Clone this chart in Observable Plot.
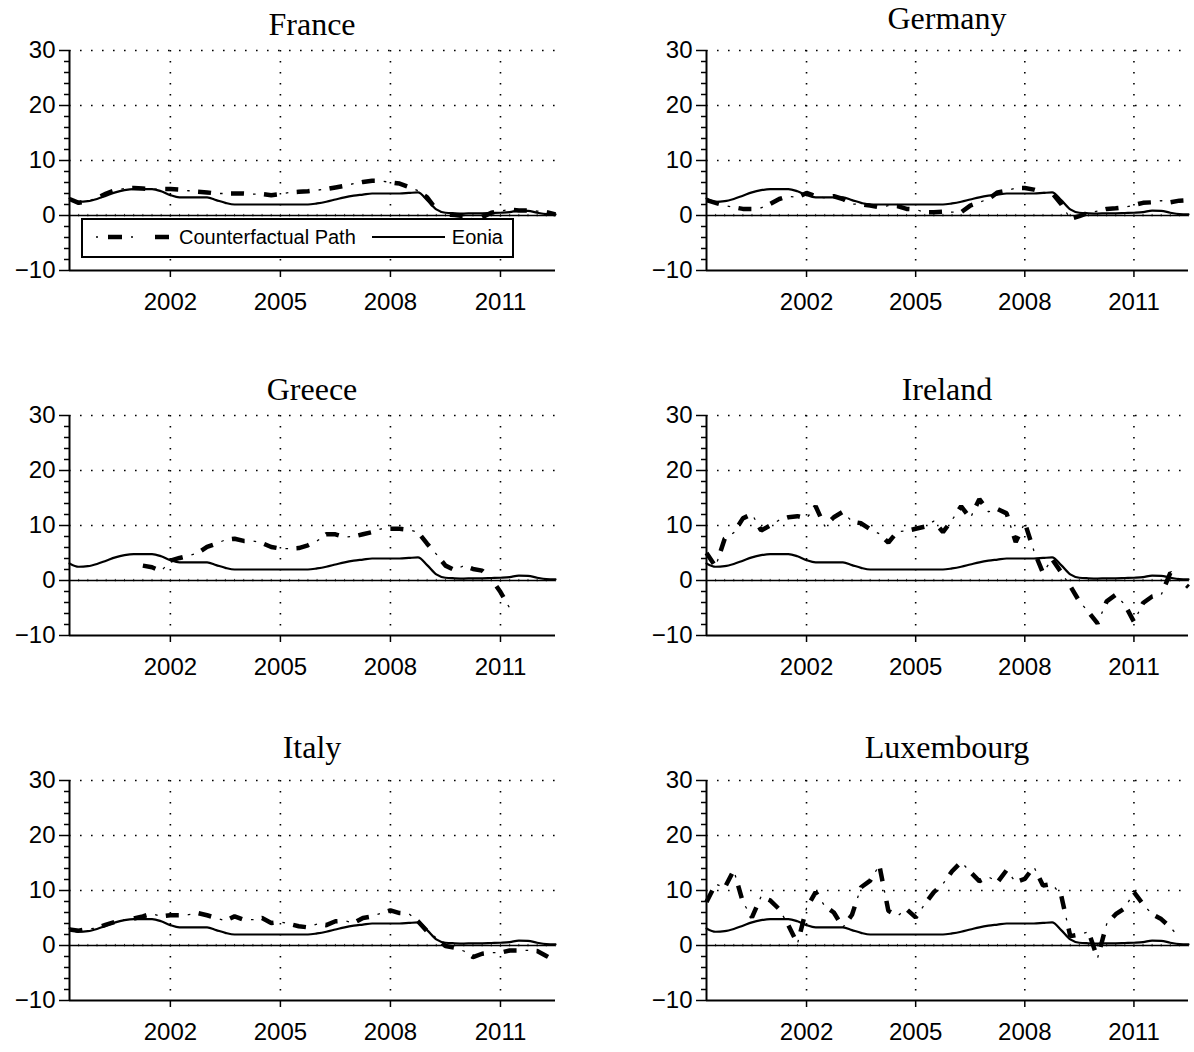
<!DOCTYPE html>
<html><head><meta charset="utf-8">
<script src="https://cdn.jsdelivr.net/npm/d3@7"></script>
<script src="https://cdn.jsdelivr.net/npm/@observablehq/plot@0.6"></script>
<style>
body{margin:0;background:#fff;}
#root{position:relative;width:1194px;height:1052px;background:#fff;overflow:hidden;}
.panel{position:absolute;}
#overlay{position:absolute;left:0;top:0;pointer-events:none;}
</style></head><body><div id="root"></div>
<script>
// quarterly observations, 1999Q2 .. 2012Q3
const startYear = 1999.25;
const nQuarters = 54;
const quarters = Array.from({length: nQuarters}, (_, i) => startYear + i * 0.25);

const countries = ["France", "Germany", "Greece", "Ireland", "Italy", "Luxembourg"];

const eonia = [3.1,2.5,2.6,3.0,3.6,4.2,4.6,4.8,4.8,4.8,4.4,3.7,3.3,3.3,3.3,3.3,2.8,2.3,2.0,2.0,2.0,2.0,2.0,2.0,2.0,2.0,2.0,2.2,2.5,2.9,3.3,3.6,3.8,4.0,4.0,4.0,4.0,4.1,4.2,2.8,1.1,0.5,0.4,0.35,0.4,0.4,0.45,0.5,0.6,0.9,0.85,0.5,0.25,0.2];

const franceCF = [3.0,2.3,2.6,3.2,4.0,4.6,4.9,5.0,4.9,4.8,4.8,4.8,4.7,4.5,4.3,4.2,4.0,4.0,4.0,4.0,3.9,3.9,3.7,3.9,4.2,4.3,4.4,4.6,4.8,5.1,5.4,5.8,6.1,6.3,6.3,6.0,5.8,5.2,4.5,3.3,1.1,0.2,0.1,-0.1,-0.6,-0.3,0.5,0.8,1.1,0.9,0.9,0.8,0.6,0.2];
const germanyCF = [2.8,2.3,1.8,1.5,1.2,1.2,1.4,2.1,3.0,3.5,3.3,4.1,3.5,3.2,3.5,3.0,2.1,2.0,1.8,1.5,1.8,1.7,1.2,1.1,0.6,0.6,0.7,0.6,0.6,1.8,2.4,3.0,4.2,4.5,5.0,5.0,4.7,4.2,4.1,2.1,-0.6,-0.1,0.5,0.8,1.2,1.3,1.5,1.9,2.3,2.4,2.7,2.4,2.7,2.8];
const greeceCF = [null,null,null,null,null,null,null,null,2.7,2.4,1.7,3.6,4.1,4.5,5.0,6.1,6.7,7.4,7.6,7.2,7.2,6.8,6.1,5.8,5.8,5.9,6.4,7.2,8.4,8.4,7.9,8.0,8.4,8.8,9.4,9.4,9.4,9.2,8.8,6.7,4.8,2.7,1.9,2.7,2.1,1.8,0.3,-2.1,-5.0,null,null,null,null,null];
const irelandCF = [5.0,2.5,7.6,8.7,11.3,12.1,9.1,10.0,11.0,11.5,11.7,11.3,13.5,9.9,11.5,12.5,10.7,10.4,9.3,8.5,6.9,8.9,9.0,9.4,9.8,10.8,8.8,11.0,13.5,11.3,14.8,12.5,13.0,12.2,7.0,10.5,5.4,1.4,3.9,1.5,-1.0,-3.8,-5.7,-7.8,-3.8,-2.6,-4.4,-7.5,-4.1,-2.9,-2.6,1.4,0.2,-1.2];
const italyCF = [2.9,2.7,3.0,3.2,3.8,4.3,4.7,4.9,5.3,5.8,5.3,5.5,5.5,5.6,5.9,5.5,5.0,4.5,5.3,4.7,4.7,5.0,4.1,4.3,3.9,3.5,3.3,3.9,3.7,4.4,4.5,4.1,5.0,5.3,5.9,6.4,5.9,5.8,4.4,2.6,1.4,-0.1,-0.4,-1.0,-2.1,-1.5,-1.3,-1.3,-0.9,-0.9,-0.9,-1.0,-1.9,-2.8];
const luxembourgCF = [7.9,11.2,10.5,13.7,7.9,5.1,8.9,8.2,6.6,3.7,0.3,6.8,9.7,7.2,6.0,3.3,5.6,10.6,11.8,14.6,6.3,5.4,6.6,5.1,7.5,9.7,11.2,13.5,15.2,13.4,11.7,12.5,11.5,13.7,11.5,12.1,14.3,10.9,11.2,9.1,1.7,2.0,2.5,-2.3,3.9,5.7,6.8,9.7,7.5,5.7,4.8,3.3,1.5,null];

const counterfactual = [franceCF, germanyCF, greeceCF, irelandCF, italyCF, luxembourgCF];

const yTicks = [-10, 0, 10, 20, 30];
const yMinorTicks = [-8,-6,-4,-2,2,4,6,8,12,14,16,18,22,24,26,28];
const yGrid = [10, 20, 30];
const xTicks = [2002, 2005, 2008, 2011];
const xDomain = [1999.25, 2012.5];
const yDomain = [-10, 30];

const legendLabels = ["Counterfactual Path", "Eonia"];

// layout
const colLeft = [0, 637];
const colWidth = [560, 557];
const colMarginRight = [5, 6];
const rowTop = [40, 405, 770];
const titleBaseline = [[35, 29], [400, 400], [758, 758]];

const root = document.getElementById("root");
const eoniaData = quarters.map((t, i) => ({t, v: eonia[i]}));

const fmtY = d => d < 0 ? "\u2212" + Math.abs(d) : String(d);

countries.forEach((name, k) => {
  const row = Math.floor(k / 2), col = k % 2;
  const cf = counterfactual[k];
  const cfData = quarters.map((t, i) => ({t, v: cf[i] == null ? NaN : cf[i]}));
  const svg = Plot.plot({
    width: colWidth[col],
    height: 282,
    marginLeft: 69,
    marginRight: colMarginRight[col],
    marginTop: 10,
    marginBottom: 52,
    x: {domain: xDomain, label: null},
    y: {domain: yDomain, label: null},
    style: {fontFamily: "'Liberation Sans', Arial, sans-serif", fontSize: "24px", color: "#000", background: "transparent", overflow: "visible"},
    marks: [
      Plot.gridY(yGrid, {stroke: "#000", strokeOpacity: 1, strokeWidth: 1.6, strokeDasharray: "1.6,9.4"}),
      Plot.gridX(xTicks, {stroke: "#000", strokeOpacity: 1, strokeWidth: 1.6, strokeDasharray: "1.6,9.4"}),
      Plot.ruleY([0], {stroke: "#000", strokeWidth: 1.4}),
      Plot.ruleX(quarters, {x: d => d, y1: -0.25, y2: 0.2, stroke: "#000", strokeWidth: 0.8}),
      Plot.line(cfData, {x: "t", y: "v", stroke: "#000", strokeWidth: 4.5, strokeDasharray: "13,20", strokeLinecap: "butt", strokeLinejoin: "miter"}),
      Plot.line(cfData, {x: "t", y: "v", stroke: "#000", strokeWidth: 1.3, strokeDasharray: "0,22,2.6,8.4", strokeLinecap: "butt"}),
      Plot.line(eoniaData, {x: "t", y: "v", stroke: "#000", strokeWidth: 2.2, curve: "monotone-x"}),
      Plot.axisY(yMinorTicks, {tickSize: 5, fill: "none", stroke: "#000", strokeWidth: 1.5, label: null}),
      Plot.axisY(yTicks, {tickSize: 10, tickPadding: 4, stroke: "#000", strokeWidth: 1.5, tickFormat: fmtY, fontSize: 24, label: null}),
      Plot.axisX(xTicks, {tickSize: 7, tickPadding: 15, stroke: "#000", strokeWidth: 1.5, tickFormat: d => String(d), fontSize: 24, label: null}),
      Plot.ruleX([xDomain[0]], {stroke: "#000", strokeWidth: 2}),
      Plot.ruleY([yDomain[0]], {stroke: "#000", strokeWidth: 2})
    ]
  });
  svg.classList.add("panel");
  svg.style.left = colLeft[col] + "px";
  svg.style.top = rowTop[row] + "px";
  root.appendChild(svg);
});

// titles and legend overlay
const ns = "http://www.w3.org/2000/svg";
const ov = document.createElementNS(ns, "svg");
ov.setAttribute("id", "overlay");
ov.setAttribute("width", 1194);
ov.setAttribute("height", 1052);
const centers = [312, 947];
countries.forEach((name, k) => {
  const row = Math.floor(k / 2), col = k % 2;
  const t = document.createElementNS(ns, "text");
  t.setAttribute("x", centers[col]);
  t.setAttribute("y", titleBaseline[row][col]);
  t.setAttribute("text-anchor", "middle");
  t.setAttribute("font-family", "'Liberation Serif', 'Times New Roman', serif");
  t.setAttribute("font-size", "32");
  t.textContent = name;
  ov.appendChild(t);
});
// legend box in France panel
const lg = document.createElementNS(ns, "g");
lg.innerHTML = `
  <rect x="82" y="219" width="431" height="38" fill="#fff" stroke="#000" stroke-width="2"/>
  <line x1="96" y1="237" x2="170" y2="237" stroke="#000" stroke-width="4.5" stroke-dasharray="0,12,14,21" />
  <line x1="96" y1="237" x2="170" y2="237" stroke="#000" stroke-width="1.3" stroke-dasharray="2,33" />
  <text x="179" y="244" font-family="'Liberation Sans', Arial, sans-serif" font-size="20">${legendLabels[0]}</text>
  <line x1="372" y1="237" x2="445" y2="237" stroke="#000" stroke-width="2.2"/>
  <text x="503" y="244" text-anchor="end" font-family="'Liberation Sans', Arial, sans-serif" font-size="20">${legendLabels[1]}</text>
`;
ov.appendChild(lg);
root.appendChild(ov);
</script>
</body></html>
